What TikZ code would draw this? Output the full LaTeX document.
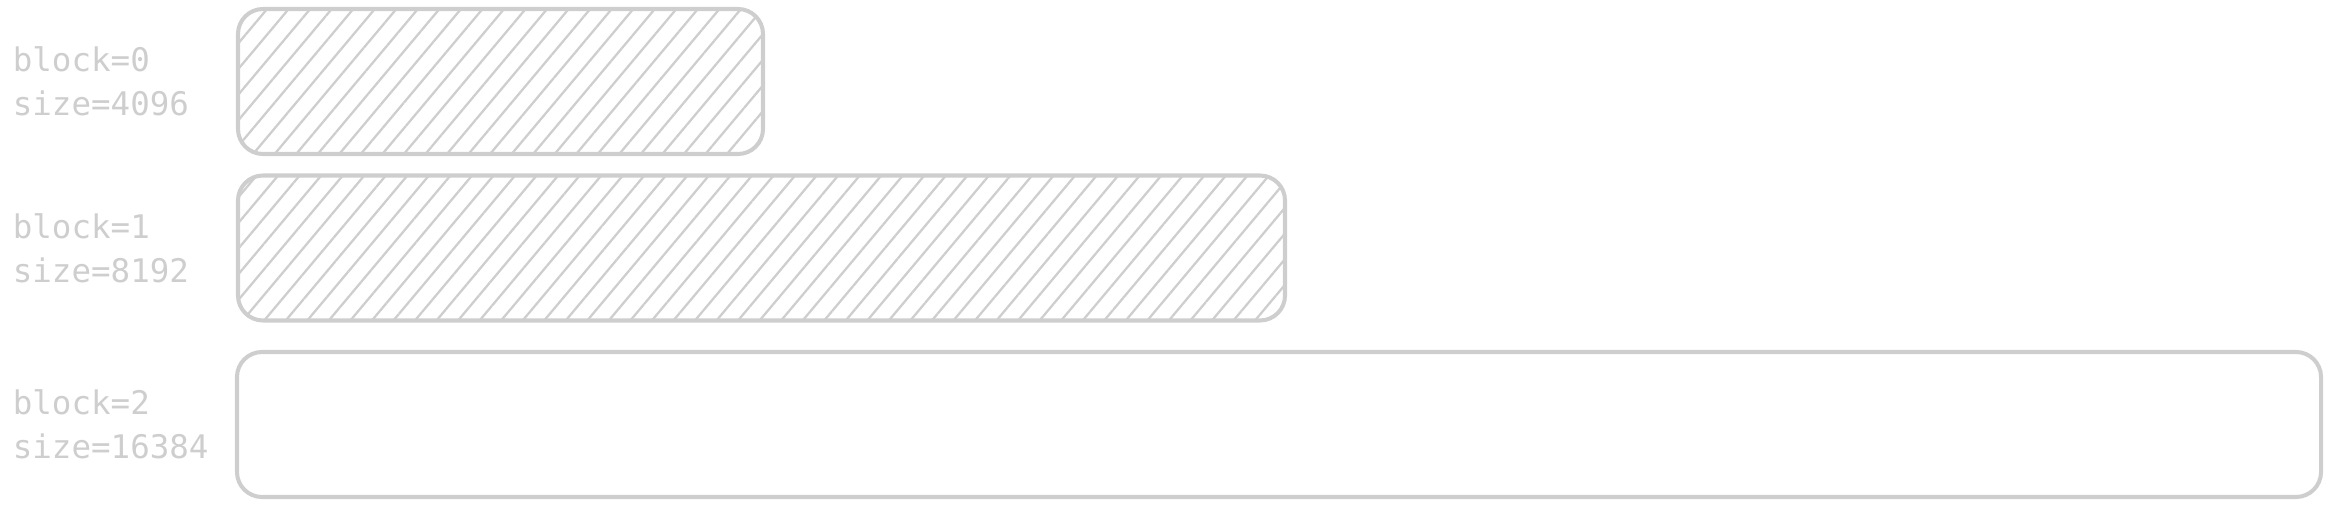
\documentclass[tikz,border=0pt]{standalone}
\usepackage{fontspec}
\setmonofont{DejaVu Sans Mono}
\usepackage{tikz}
\usetikzlibrary{
	patterns.meta,
	positioning
}
\definecolor{lightline}{HTML}{CECECE}
\tikzset{
	blockbox/.style={draw=lightline, line width=2.3pt, rounded corners=0.5cm,
		minimum height=2.9cm, inner sep=0pt},
	usedbox/.style={blockbox,
		pattern={Lines[angle=50, distance=0.33cm, line width=1.3pt]},
		pattern color=lightline},
	blocklabel/.style={anchor=west, align=left, inner sep=0pt, text=lightline,
		font=\ttfamily\fontsize{18.5}{25}\selectfont}
}

\begin{document}
\begin{tikzpicture}

	\useasboundingbox (0,0) rectangle (46.6,-10.14);

	\node[usedbox, minimum width=10.5cm] (blk0) at (10.01,-1.63) {};
	\node[usedbox, minimum width=20.94cm] (blk1) at (15.23,-4.96) {};
	\node[blockbox, minimum width=41.68cm] (blk2) at (25.58,-8.49) {};

	\node[blocklabel] (lbl0) at (0.25,-1.63) {block=0\\size=4096};
	\node[blocklabel] (lbl1) at (0.25,-4.96) {block=1\\size=8192};
	\node[blocklabel] (lbl2) at (0.25,-8.49) {block=2\\size=16384};

\end{tikzpicture}
\end{document}
